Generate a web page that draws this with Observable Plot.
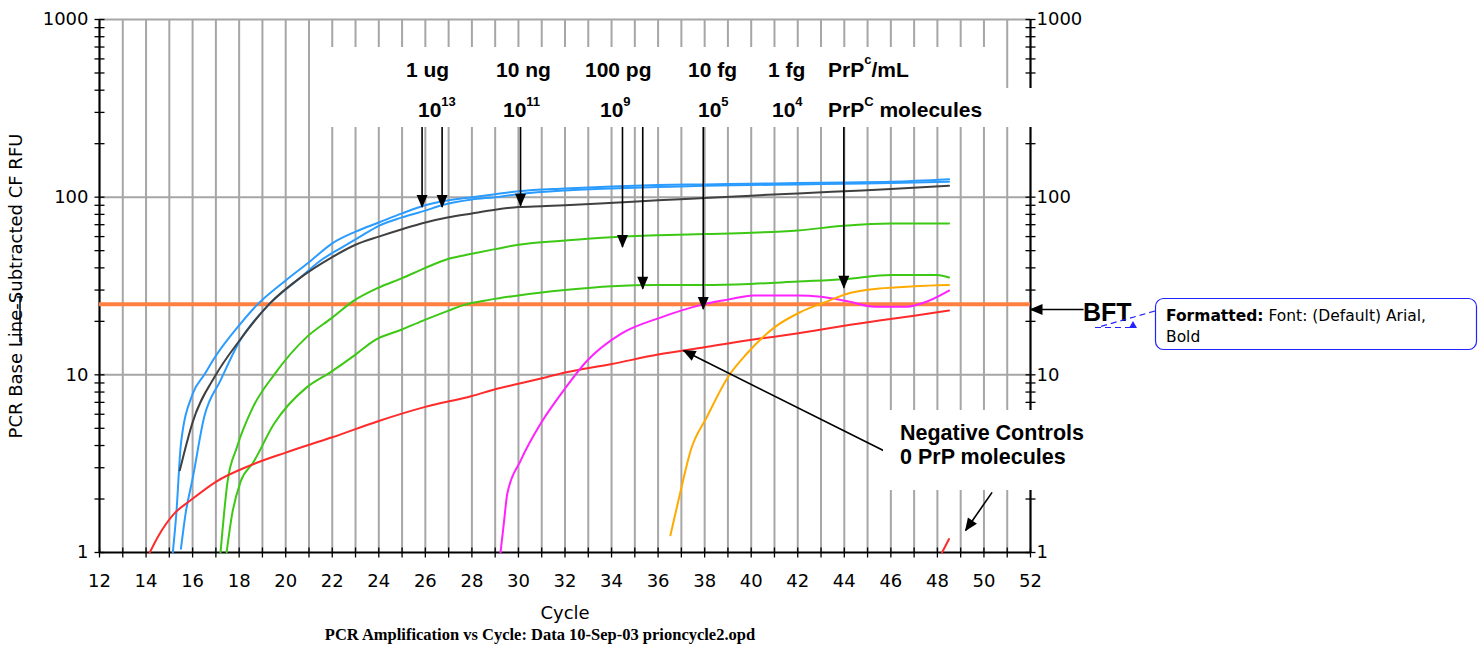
<!DOCTYPE html>
<html><head><meta charset="utf-8">
<script src="https://cdn.jsdelivr.net/npm/d3@7"></script>
<script src="https://cdn.jsdelivr.net/npm/@observablehq/plot@0.6"></script>
<style>
html,body{margin:0;padding:0;background:#fff;}
#chart{position:relative;width:1481px;height:648px;overflow:hidden;}
</style></head><body><div id="chart"></div>
<script>
// ---------- data ----------
const gridCycles = [12,13,14,15,16,17,18,19,20,21,22,23,24,25,26,27,28,29,30,31,32,33,34,35,36,37,38,39,40,41,42,43,44,45,46,47,48,49,50,51,52];
const xTickLabels = [12,14,16,18,20,22,24,26,28,30,32,34,36,38,40,42,44,46,48,50,52];
const yTickLabels = [1,10,100,1000];
const yMinorTicks = [2,3,4,5,6,7,8,9,20,30,40,50,60,70,80,90,200,300,400,500,600,700,800,900];
const yGridValues = [10,100,1000];
const bftLevel = 25;

const ug1a = [[15.15,1.0],[15.3,1.65],[15.5,4.1],[16,7.8],[16.5,10],[17,12.8],[18,19],[18.8,25],[20,34],[21,43],[22,55],[23,64],[24,72],[25,81],[26,90],[27,96],[28,100],[29,104],[30,108],[32,112],[34,115],[36,117],[38,118],[40,119],[42,120],[44,121],[46,122],[48.5,126]];
const ug1b = [[15.5,1.05],[15.7,1.66],[16,2.6],[16.5,5.8],[17.2,9.3],[18,15.3],[19.3,25],[20.6,35],[21.5,44],[22.4,52],[23.2,60],[24,69],[25,77],[26,84],[26.7,90],[28,97],[29,100],[30,104],[32,109],[34,112],[36,114],[38,116],[40,117],[42,118],[44,119],[46,120],[48.5,122]];
const ng10 = [[15.45,2.9],[16,5.4],[17,10],[18,15.5],[19.35,25.5],[20.6,35],[22,46],[23,54],[24,60],[25,66],[26,72],[27,77],[28,81],[29,85],[30,88],[31,89],[32,90],[33.5,92],[36,96],[38,99],[40,102],[42,105],[44,108],[46,111],[48.5,116]];
const pg100a = [[17.2,1],[17.5,2.5],[17.9,3.9],[18.6,6.6],[19.5,10],[20.9,16.3],[22,21],[22.9,26],[24,31],[25,35],[26,40],[27,45],[28,48],[29,51],[30,54],[32,57],[34,59.5],[36,61],[38,62],[40,63],[42,65],[44,69],[46,71],[48.5,71]];
const pg100b = [[17.46,1],[17.7,1.65],[18.06,2.5],[18.6,3.2],[19.5,5.3],[20.9,8.5],[21.9,10.3],[23,13],[23.8,15.6],[25,18],[25.9,20.2],[27,23],[27.6,24.6],[28.8,26.5],[30,28],[32,30],[34,31.5],[36,32],[38,32],[40,32.5],[42,33.5],[44,34.5],[46,36.5],[48,36.5],[48.5,35.3]];
const negCtrl1 = [[14.16,1],[14.5,1.22],[15.2,1.65],[15.9,1.96],[17,2.5],[18.5,3.1],[20,3.65],[22,4.45],[24,5.5],[26,6.6],[28,7.6],[29,8.3],[30,8.9],[31.2,9.7],[32,10.3],[34,11.5],[36,13],[38,14.3],[39.8,15.6],[41,16.4],[42.7,17.7],[44,18.9],[45.5,20.2],[47,21.5],[48.5,23]];
const fg10 = [[29.23,1],[29.37,1.45],[29.52,2.14],[30.1,3.3],[30.95,5.3],[31.95,8.2],[32.95,12],[34.4,17],[36.1,21],[38,25],[39,26.5],[40.1,28],[42,28],[43,27.5],[44.1,26],[45.3,24.2],[46.7,24.2],[47.5,25.7],[48.5,29.8]];
const fg1 = [[36.53,1.25],[36.96,2.2],[37.4,3.75],[38.1,5.8],[39,9.7],[39.8,13.1],[41,18.5],[42.1,22.5],[43.3,26],[44.1,28.5],[45.5,30.6],[47,31.5],[48.5,32]];
const negCtrl2 = [[48.2,1],[48.5,1.19]];

const seriesNames = ["1 ug a","1 ug b","10 ng","100 pg a","100 pg b","Negative control 1","10 fg","1 fg","Negative control 2"];
const seriesPoints = [ug1a, ug1b, ng10, pg100a, pg100b, negCtrl1, fg10, fg1, negCtrl2];
const seriesColors = ["#2b9cff","#2b9cff","#404040","#3cc814","#3cc814","#ff2a2a","#ff22ff","#ffaa00","#ff2a2a"];

// arrows pointing to curves (cycle, RFU)
const arrowFromCycle = [25.86,26.72,30.09,34.47,35.34,37.94,43.98,45.68,50.35,54.28];
const arrowFromRfu   = [250,250,250,250,250,250,250,3.75,2.18,23.3];
const arrowToCycle   = [25.86,26.72,30.09,34.47,35.34,37.94,43.98,37.09,49.21,52.0];
const arrowToRfu     = [88,88,89.5,52.5,30.5,23.5,30.9,13.7,1.33,23.3];

const rows = seriesNames.flatMap((name,i)=>seriesPoints[i].map(([cycle,rfu])=>({series:name,cycle,rfu})));
const arrows = arrowFromCycle.map((c,i)=>({x1:c,y1:arrowFromRfu[i],x2:arrowToCycle[i],y2:arrowToRfu[i]}));
const yAllTicks = [...yTickLabels, ...yMinorTicks];
const yTickCrosses = yAllTicks.flatMap(v=>[{x:12,v},{x:52,v}]);

// ---------- drawing ----------
const vTick = {draw(c){c.moveTo(0,-5);c.lineTo(0,5);}};
const hTick = {draw(c){c.moveTo(-5,0);c.lineTo(5,0);}};
function filledHead(color){
  const ns="http://www.w3.org/2000/svg";
  const m=document.createElementNS(ns,"marker");
  m.setAttribute("viewBox","-13 -6 14 12");
  m.setAttribute("markerWidth","14"); m.setAttribute("markerHeight","12");
  m.setAttribute("markerUnits","userSpaceOnUse");
  m.setAttribute("refX","0"); m.setAttribute("refY","0");
  m.setAttribute("orient","auto");
  const p=document.createElementNS(ns,"path");
  p.setAttribute("d","M1,0L-12,-5.5L-12,5.5Z");
  p.setAttribute("fill","#000"); p.setAttribute("stroke","none");
  m.appendChild(p);
  return m;
}

function build(marker){
  return Plot.plot({
    width:1481, height:648,
    marginLeft:99, marginRight:451, marginTop:19, marginBottom:96,
    style:{fontFamily:"DejaVu Sans", fontSize:"18px", background:"#fff", overflow:"visible", color:"#000"},
    x:{domain:[12,52]},
    y:{type:"log", domain:[1,1000]},
    color:{domain:seriesNames, range:seriesColors},
    marks:[
      Plot.ruleX(gridCycles,{stroke:"#a6a6a6",strokeWidth:2}),
      Plot.ruleY(yGridValues,{stroke:"#a6a6a6",strokeWidth:2}),
      Plot.ruleX([12,52],{stroke:"#000",strokeWidth:2}),
      Plot.ruleY([1],{stroke:"#000",strokeWidth:2}),
      Plot.dot(gridCycles,{x:d=>d,y:1,symbol:vTick,stroke:"#000",fill:"none",strokeWidth:1.3}),
      Plot.dot(yTickCrosses,{x:"x",y:"v",symbol:hTick,stroke:"#000",fill:"none",strokeWidth:1.3}),
      Plot.ruleY([bftLevel],{stroke:"#ff8040",strokeWidth:4}),
      Plot.line(rows,{x:"cycle",y:"rfu",z:"series",stroke:"series",strokeWidth:2,curve:"monotone-x"}),
      Plot.link(arrows,{x1:"x1",y1:"y1",x2:"x2",y2:"y2",stroke:"#000",strokeWidth:1.6,markerEnd:marker}),
      Plot.axisX({ticks:xTickLabels,tickFormat:d=>`${d}`,tickSize:0,tickPadding:22,fontSize:18,label:"Cycle",labelAnchor:"center",labelArrow:"none",labelOffset:66}),
      Plot.axisY({anchor:"left",ticks:yTickLabels,tickFormat:d=>`${d}`,tickSize:0,tickPadding:11,fontSize:18,label:"PCR Base Line-Subtracted CF RFU",labelAnchor:"center",labelArrow:"none",labelOffset:90}),
      Plot.axisY({anchor:"right",ticks:yTickLabels,tickFormat:d=>`${d}`,tickSize:0,tickPadding:6,fontSize:18,label:null})
    ]
  });
}
let svgNode;
try { svgNode = build(filledHead); } catch(e) { svgNode = build("arrow"); }
document.getElementById("chart").appendChild(svgNode);

// ---------- annotations ----------
const svg = d3.select(svgNode);
const g = svg.append("g").attr("text-anchor","start");
const boxes = [[310,47,695,42],[310,88,735,39],[883,410,245,80]];
boxes.forEach(([x,y,w,h])=>g.append("rect").attr("x",x).attr("y",y).attr("width",w).attr("height",h).attr("fill","#fff"));

function addText(x,y,parts,o){
  const t=g.append("text").attr("x",x).attr("y",y).attr("text-anchor","start")
    .attr("font-family",o.family||"Liberation Sans").attr("font-size",o.size)
    .attr("font-weight",o.weight||"bold").attr("fill","#000");
  let raised=0;
  parts.forEach(p=>{
    const s=t.append("tspan").text(p.t);
    if(p.sup){ s.attr("font-size",o.supSize||13).attr("dy",-(p.raise||11)-raised); raised=(p.raise||11); }
    else if(raised){ s.attr("dy",raised); raised=0; }
  });
  return t;
}
const big={size:21};
[["1 ug",406],["10 ng",496],["100 pg",585],["10 fg",688],["1 fg",768]].forEach(([s,x])=>addText(x,77,[{t:s}],big));
addText(828,77,[{t:"PrP"},{t:"c",sup:true,raise:13},{t:"/mL"}],big);
[["13",418],["11",503],["9",600],["5",698],["4",772]].forEach(([s,x])=>addText(x,117,[{t:"10"},{t:s,sup:true}],big));
addText(828,117,[{t:"PrP"},{t:"C",sup:true},{t:" molecules"}],big);
addText(900,440,[{t:"Negative Controls"}],{size:21.5});
addText(900,464,[{t:"0 PrP molecules"}],{size:21.5});
addText(1083,321,[{t:"BFT"}],{size:25});

// caption
g.append("text").attr("x",540).attr("y",640).attr("text-anchor","middle")
  .attr("font-family","Liberation Serif").attr("font-weight","bold").attr("font-size",16.5)
  .text("PCR Amplification vs Cycle: Data 10-Sep-03 prioncycle2.opd");

// cursor mark on y label
g.append("path").attr("d","M20,297V342M17,297H23").attr("stroke","#000").attr("stroke-width",1.5).attr("fill","none");

// comment balloon
g.append("rect").attr("x",1155.5).attr("y",298.5).attr("width",321).attr("height",51).attr("rx",8)
  .attr("fill","#fff").attr("stroke","#2323ff").attr("stroke-width",1.2);
const ct=g.append("text").attr("x",1166).attr("y",321).attr("text-anchor","start").attr("font-family","DejaVu Sans").attr("font-size",15.5).attr("fill","#000");
ct.append("tspan").attr("font-weight","bold").text("Formatted:");
ct.append("tspan").text(" Font: (Default) Arial,");
g.append("text").attr("x",1166).attr("y",342).attr("text-anchor","start").attr("font-family","DejaVu Sans").attr("font-size",15.5).attr("fill","#000").text("Bold");
g.append("path").attr("d","M1155,311L1097,327.5M1095,327.5H1136").attr("stroke","#2323ff").attr("stroke-width",1.2).attr("stroke-dasharray","6,4").attr("fill","none");
g.append("path").attr("d","M1129,328L1137,328L1133,321Z").attr("fill","#2323ff");
</script></body></html>
